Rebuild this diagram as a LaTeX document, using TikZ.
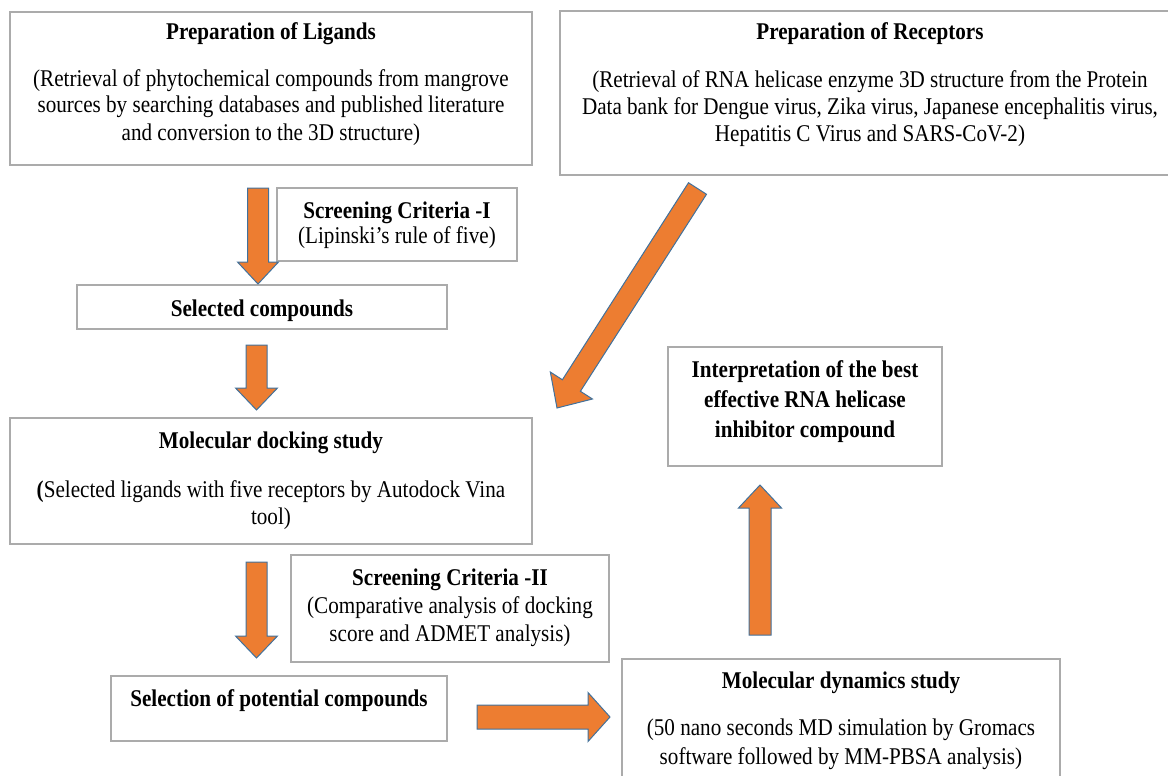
\documentclass[tikz,border=0pt]{standalone}
\usepackage{fontspec}
\setmainfont{Liberation Serif}[FakeStretch=0.88]
\usetikzlibrary{calc}
\definecolor{arrfill}{HTML}{ED7D31}
\definecolor{arrline}{HTML}{41719C}
\definecolor{boxline}{HTML}{ABABAB}
% #1 start, #2 tip, #3 shaft half width, #4 head half width, #5 head length
\newcommand{\blkarrow}[5]{%
  \coordinate (bkH) at ($(#2)!#5pt!(#1)$);
  \path[blockarr] ($(#1)!#3pt!90:(#2)$) -- ($(bkH)!#3pt!-90:(#1)$) -- ($(bkH)!#4pt!-90:(#1)$) -- (#2)
     -- ($(bkH)!#4pt!90:(#1)$) -- ($(bkH)!#3pt!90:(#1)$) -- ($(#1)!#3pt!-90:(#2)$) -- cycle;
}
\begin{document}
\begin{tikzpicture}[x=1pt,y=-1pt,
  box/.style={draw=boxline, line width=1.5pt, inner sep=0pt, outer sep=0pt},
  txt/.style={inner sep=0pt, anchor=base, font=\fontsize{24}{27}\selectfont},
  ttl/.style={inner sep=0pt, anchor=base, font=\fontsize{24}{27}\selectfont\bfseries},
  blockarr/.style={fill=arrfill, draw=arrline, line width=1pt, line join=miter}]
\useasboundingbox (0,0) rectangle (1168,776);
\clip (0,0) rectangle (1168,776);

% boxes
\node[box, minimum width=522pt, minimum height=153pt] (lig) at (271,88.5) {};
\node[box, minimum width=620pt, minimum height=164pt] (rec) at (870,93) {};
\node[box, minimum width=240pt, minimum height=73pt] (scr1) at (397,224.5) {};
\node[box, minimum width=370pt, minimum height=44pt] (sel) at (262,307) {};
\node[box, minimum width=522pt, minimum height=126pt] (dock) at (271,481) {};
\node[box, minimum width=318pt, minimum height=107pt] (scr2) at (450,608.5) {};
\node[box, minimum width=336pt, minimum height=65pt] (sel2) at (279,708.5) {};
\node[box, minimum width=274pt, minimum height=119pt] (interp) at (805,406.5) {};
\node[box, minimum width=438pt, minimum height=141pt] (md) at (841,729.5) {};

% texts
\node[ttl] (ligT) at (271,40) {Preparation of Ligands};
\node[txt] (ligA) at (271,86) {(Retrieval of phytochemical compounds from mangrove};
\node[txt] (ligB) at (271,113) {sources by searching databases and published literature};
\node[txt] (ligC) at (271,140) {and conversion to the 3D structure)};

\node[ttl] (recT) at (870,40) {Preparation of Receptors};
\node[txt] (recA) at (870,88) {(Retrieval of RNA helicase enzyme 3D structure from the Protein};
\node[txt] (recB) at (870,114) {Data bank for Dengue virus, Zika virus, Japanese encephalitis virus,};
\node[txt] (recC) at (870,141) {Hepatitis C Virus and SARS-CoV-2)};

\node[ttl] (scr1T) at (397,218) {Screening Criteria -I};
\node[txt] (scr1A) at (397,243) {(Lipinski’s rule of five)};

\node[ttl] (selT) at (262,316) {Selected compounds};

\node[ttl] (dockT) at (271,448) {Molecular docking study};
\node[txt] (dockA) at (271,497) {\textbf{(}Selected ligands with five receptors by Autodock Vina};
\node[txt] (dockB) at (271,524) {tool)};

\node[ttl] (scr2T) at (450,585) {Screening Criteria -II};
\node[txt] (scr2A) at (450,613) {(Comparative analysis of docking};
\node[txt] (scr2B) at (450,641) {score and ADMET analysis)};

\node[ttl] (sel2T) at (279,706) {Selection of potential compounds};

\node[ttl] (intA) at (805,377) {Interpretation of the best};
\node[ttl] (intB) at (805,407) {effective RNA helicase};
\node[ttl] (intC) at (805,437) {inhibitor compound};

\node[ttl] (mdT) at (841,688) {Molecular dynamics study};
\node[txt] (mdA) at (841,735) {(50 nano seconds MD simulation by Gromacs};
\node[txt] (mdB) at (841,764) {software followed by MM-PBSA analysis)};

% arrow end points
\coordinate (a1s) at (258,188);   \coordinate (a1e) at (258,284);
\coordinate (a2s) at (256.5,345); \coordinate (a2e) at (256.5,410);
\coordinate (a3s) at (697.5,188.5); \coordinate (a3e) at (557,408);
\coordinate (a4s) at (256.5,562); \coordinate (a4e) at (256.5,658);
\coordinate (a5s) at (477,717);   \coordinate (a5e) at (610,717);
\coordinate (a6s) at (760,635);   \coordinate (a6e) at (760,485);

\blkarrow{a1s}{a1e}{10.5}{20.5}{22}
\blkarrow{a2s}{a2e}{10.5}{21}{22}
\blkarrow{a3s}{a3e}{10.7}{25}{26.7}
\blkarrow{a4s}{a4e}{10.5}{21}{22}
\blkarrow{a5s}{a5e}{12}{24.5}{22}
\blkarrow{a6s}{a6e}{11}{21.5}{23}
\end{tikzpicture}
\end{document}
